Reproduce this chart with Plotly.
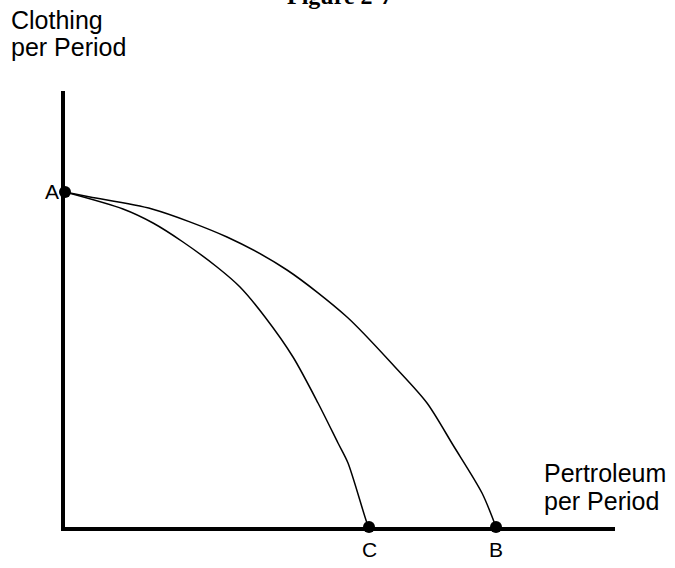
import plotly.graph_objects as go

# Production possibilities frontiers (units: arbitrary)
outer_x = [0, 25, 87, 162, 222, 282, 330, 362, 388, 417, 431]
outer_y = [335, 330, 318, 290, 257, 210, 160, 124, 82, 34, 0]

inner_x = [0, 58, 88, 118, 152, 175, 200, 228, 253, 273, 283, 302, 304]
inner_y = [335, 318, 304, 285, 260, 240, 210, 170, 124, 84, 64, 4, 0]

point_labels = ["A", "C", "B"]
point_x = [0, 304, 431]
point_y = [335, 0, 0]

X_MAX, Y_MAX = 550, 436

W, H = 675, 568
L, R, T, B = 65, 60, 91, 41
PW, PH = W - L - R, H - T - B


def px(x):
    return (x - L) / PW


def py(y):
    return 1 - (y - T) / PH


fig = go.Figure()
fig.add_trace(go.Scatter(x=outer_x, y=outer_y, mode="lines",
                         line=dict(color="black", width=1.5, shape="spline", smoothing=0.8),
                         hoverinfo="skip"))
fig.add_trace(go.Scatter(x=inner_x, y=inner_y, mode="lines",
                         line=dict(color="black", width=1.5, shape="spline", smoothing=0.8),
                         hoverinfo="skip"))
fig.add_trace(go.Scatter(x=point_x, y=point_y, mode="markers",
                         marker=dict(color="black", size=12), cliponaxis=False,
                         hoverinfo="skip"))

sans = "Liberation Sans, Arial, sans-serif"
ann = []
ann.append(dict(text="<b>Figure 2-7</b>", x=px(340), y=py(-4), xref="paper", yref="paper",
                showarrow=False, xanchor="center", yanchor="middle",
                font=dict(family="Liberation Serif, Times New Roman, serif", size=24, color="black")))
for txt, yy in [("Clothing", 20), ("per Period", 47)]:
    ann.append(dict(text=txt, x=px(9), y=py(yy), xref="paper", yref="paper",
                    showarrow=False, xanchor="left", yanchor="middle",
                    font=dict(family=sans, size=25, color="black")))
for txt, yy in [("Pertroleum", 473), ("per Period", 501)]:
    ann.append(dict(text=txt, x=px(542), y=py(yy), xref="paper", yref="paper",
                    showarrow=False, xanchor="left", yanchor="middle",
                    font=dict(family=sans, size=25, color="black")))
# point labels
ann.append(dict(text=point_labels[0], x=px(52), y=py(191), xref="paper", yref="paper",
                showarrow=False, xanchor="center", yanchor="middle",
                font=dict(family=sans, size=21, color="black")))
for lab, xv in zip(point_labels[1:], point_x[1:]):
    ann.append(dict(text=lab, x=xv, y=py(549), xref="x", yref="paper",
                    showarrow=False, xanchor="center", yanchor="middle",
                    font=dict(family=sans, size=21, color="black")))

fig.update_layout(
    width=W, height=H,
    margin=dict(l=L, r=R, t=T, b=B),
    paper_bgcolor="white", plot_bgcolor="white",
    showlegend=False,
    hovermode=False,
    annotations=ann,
    xaxis=dict(range=[0, X_MAX], showgrid=False, zeroline=False, showticklabels=False,
               ticks="", showline=True, linecolor="black", linewidth=4),
    yaxis=dict(range=[0, Y_MAX], showgrid=False, zeroline=False, showticklabels=False,
               ticks="", showline=True, linecolor="black", linewidth=4),
)

fig.write_html("out.html",
               config={"displayModeBar": False},
               post_script="document.body.style.margin='0';document.body.style.overflow='hidden';")
